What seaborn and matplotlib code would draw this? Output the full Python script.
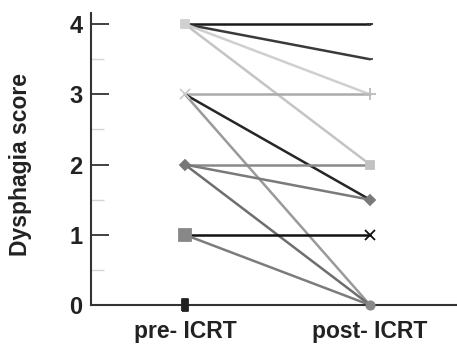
import matplotlib
matplotlib.use("Agg")
import matplotlib.pyplot as plt
import numpy as np
import pandas as pd
import seaborn as sns

# paired scores per patient
pre_scores = [4, 4, 4, 4, 3, 3, 3, 2, 2, 2, 1, 1, 0]
post_scores = [4, 3.5, 3, 2, 3, 1.5, 0, 2, 1.5, 0, 1, 0, 0]
line_colors = ["#1a1a1a", "#3a3a3a", "#cfcfcf", "#c4c4c4", "#ababab", "#262626",
               "#9a9a9a", "#8a8a8a", "#7a7a7a", "#6e6e6e", "#111111", "#7c7c7c", "#222222"]
time_labels = ["pre- ICRT", "post- ICRT"]

# markers for each score level
pre_levels = [4, 3, 2, 1, 0]
pre_markers = ["s", "x", "D", "s", "s"]
pre_marker_colors = ["#d0d0d0", "#cccccc", "#777777", "#888888", "#222222"]
post_levels = [4, 3.5, 3, 2, 1.5, 1, 0]
post_markers = ["_", "_", "+", "s", "D", "x", "o"]
post_marker_colors = ["#333333", "#444444", "#bbbbbb", "#c2c2c2", "#7a7a7a", "#111111", "#888888"]

rows = []
for i, (a, b) in enumerate(zip(pre_scores, post_scores)):
    rows.append({"patient": i, "time": 0, "score": a})
    rows.append({"patient": i, "time": 1, "score": b})
df = pd.DataFrame(rows)

sns.set_style("white")
plt.rcParams["font.family"] = ["Liberation Sans", "DejaVu Sans"]

fig = plt.figure(figsize=(4.57, 3.49), dpi=100)
ax = fig.add_axes([0.199, 0.126, 0.801, 0.837])

sns.lineplot(data=df, x="time", y="score", hue="patient", palette=line_colors,
             units="patient", estimator=None, legend=False, linewidth=1.8, ax=ax)

sizes = {"s": 6, "x": 7, "D": 5.5, "_": 5, "+": 8, "o": 6}
rect = [(-0.55, -1), (0.55, -1), (0.55, 1), (-0.55, 1), (-0.55, -1)]
for t, levels, mks, cols in [(0, pre_levels, pre_markers, pre_marker_colors),
                             (1, post_levels, post_markers, post_marker_colors)]:
    for lv, mk, c in zip(levels, mks, cols):
        sz = sizes[mk]
        if t == 0 and lv == 1:
            sz = 8.5
        if t == 0 and lv == 0:
            mk, sz = rect, 8
        ax.plot([t], [lv], marker=mk, color=c, markersize=sz, markeredgewidth=1.3,
                linestyle="none", clip_on=False, zorder=5)

ax.set_xlim(-0.508, 1.47)
ax.set_ylim(0, 4.16)
ax.set_xticks([0, 1])
ax.set_xticklabels(time_labels)
ax.set_yticks([0, 1, 2, 3, 4])
ax.set_yticks([0.5, 1.5, 2.5, 3.5], minor=True)
ax.tick_params(axis="y", which="major", direction="in", length=13, width=1.3, color="#333333",
               labelsize=17, pad=6, left=True)
ax.tick_params(axis="y", which="minor", direction="in", length=9, width=1, color="#d5d5d5", left=True)
ax.tick_params(axis="x", length=0, labelsize=16.5, pad=11)
for lab in ax.get_xticklabels() + ax.get_yticklabels():
    lab.set_fontweight("bold")
    lab.set_color("#222222")

ax.set_xlabel("")
ax.set_ylabel("Dysphagia score", fontsize=16.5, fontweight="bold", color="#222222")
ax.yaxis.set_label_coords(-0.16, 0.48)

sns.despine(ax=ax, top=True, right=True)
for side in ["left", "bottom"]:
    ax.spines[side].set_color("#333333")
    ax.spines[side].set_linewidth(1.5)

fig.savefig("out.png", dpi=100)
